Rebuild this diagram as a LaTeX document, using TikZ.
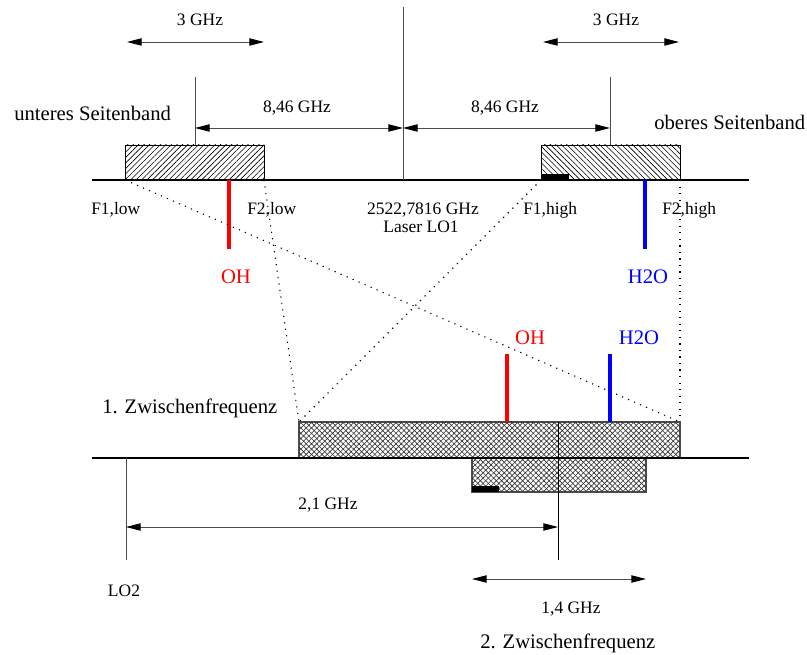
\documentclass[tikz,border=0pt]{standalone}
\usepackage{fontspec}
\setmainfont{Liberation Serif}
\usetikzlibrary{arrows.meta,patterns.meta}
\begin{document}
\begin{tikzpicture}[x=0.75pt,y=-0.75pt,
  small/.style={font=\fontsize{13.1}{15}\selectfont, inner sep=0pt, anchor=base},
  big/.style={font=\fontsize{15.5}{18}\selectfont, inner sep=0pt, anchor=base},
  axisline/.style={line width=0.9pt, black},
  tickline/.style={line width=0.7pt, black!70},
  dimline/.style={line width=0.7pt, black!70,
    {Triangle[length=11pt,width=5.5pt,color=black]}-{Triangle[length=11pt,width=5.5pt,color=black]}},
  guide/.style={line width=0.8pt, dash pattern=on 0.9pt off 4pt},
  lowband/.style={draw=black, line width=0.6pt,
    pattern={Lines[angle=45, distance=2.9pt, line width=0.45pt]}},
  highband/.style={draw=black, line width=0.6pt,
    pattern={Lines[angle=-45, distance=2.9pt, line width=0.45pt]}},
  ifband/.style={draw=black!70, line width=0.8pt, pattern color=black!80,
    pattern={Lines[angle=45, distance=2.8pt, line width=0.5pt]},
    postaction={pattern color=black!80, pattern={Lines[angle=-45, distance=2.8pt, line width=0.5pt]}}},
  marker/.style={fill=black},
  ohline/.style={line width=3pt, red},
  waterline/.style={line width=3pt, blue}
]
\useasboundingbox (0,0) rectangle (807,655);

% ---------- radio frequency axis with both sidebands ----------
\coordinate (rfL) at (92,180);
\coordinate (rfR) at (749,180);
\coordinate (lo1top) at (403,7);
\coordinate (lo1) at (403,180);
\coordinate (lsbA) at (125,145);
\coordinate (lsbB) at (264,180);
\coordinate (lsbBL) at (125,180);
\coordinate (usbA) at (541,145);
\coordinate (usbB) at (680,180);
\coordinate (usbBL) at (541,180);
\coordinate (lsbTickTop) at (195,77);
\coordinate (lsbTickBot) at (195,145);
\coordinate (usbTickTop) at (610,77);
\coordinate (usbTickBot) at (610,145);
\coordinate (markA) at (541,174);
\coordinate (markB) at (569,180);

\draw[lowband] (lsbA) rectangle (lsbB);
\draw[highband] (usbA) rectangle (usbB);
\fill[marker] (markA) rectangle (markB);
\draw[axisline] (rfL) -- (rfR);
\draw[tickline] (lo1top) -- (lo1);
\draw[tickline] (lsbTickTop) -- (lsbTickBot);
\draw[tickline] (usbTickTop) -- (usbTickBot);

% distances
\coordinate (dLa) at (195,128);
\coordinate (dLb) at (403,128);
\coordinate (dRb) at (610,128);
\coordinate (wLa) at (127,42);
\coordinate (wLb) at (264,42);
\coordinate (wRa) at (543,42);
\coordinate (wRb) at (679,42);
\draw[dimline] (dLa) -- (dLb);
\draw[dimline] (dLb) -- (dRb);
\draw[dimline] (wLa) -- (wLb);
\draw[dimline] (wRa) -- (wRb);

\node[small] (wLlab) at (200,26) {3 GHz};
\node[small] (wRlab) at (616,26) {3 GHz};
\node[small] (dLlab) at (297,113) {8,46 GHz};
\node[small] (dRlab) at (505,113) {8,46 GHz};
\node[big, anchor=base west] (lsbname) at (14,121) {unteres Seitenband};
\node[big, anchor=base west] (usbname) at (654,130) {oberes Seitenband};

\node[small, anchor=base west] (f1low) at (91,215) {F1,low};
\node[small, anchor=base west] (f2low) at (247,215) {F2,low};
\node[small, anchor=base west] (f1high) at (523,215) {F1,high};
\node[small, anchor=base west] (f2high) at (662,215) {F2,high};
\node[small] (lo1freq) at (423,215) {2522,7816 GHz};
\node[small] (lo1name) at (421,233) {Laser LO1};

% spectral lines in the sidebands
\coordinate (ohRFa) at (229,180);
\coordinate (ohRFb) at (229,249);
\coordinate (hwRFa) at (645,180);
\coordinate (hwRFb) at (645,249);
\draw[ohline] (ohRFa) -- (ohRFb);
\draw[waterline] (hwRFa) -- (hwRFb);
\node[big, text=red] (ohRF) at (236,284) {OH};
\node[big, text=blue] (hwRF) at (648,284) {H2O};

% ---------- first intermediate frequency ----------
\coordinate (ifL) at (92,458);
\coordinate (ifR) at (749,458);
\coordinate (if1A) at (299,422);
\coordinate (if1B) at (680,458);
\coordinate (if1TR) at (680,422);
\coordinate (if2A) at (472,458);
\coordinate (if2B) at (646,492);
\coordinate (mark2A) at (472,486);
\coordinate (mark2B) at (499,492);
\coordinate (centerTop) at (558,422);
\coordinate (centerBot) at (558,560);
\coordinate (centerArr) at (558,527);
\coordinate (lo2top) at (126,458);
\coordinate (lo2bot) at (126,560);
\coordinate (lo2arr) at (126,527);
\coordinate (bwA) at (472,579);
\coordinate (bwB) at (646,579);

% dotted mapping of the sideband edges
\draw[guide] (lsbBL) -- (if1TR);
\draw[guide] (lsbB) -- (if1A);
\draw[guide] (usbBL) -- (if1A);
\draw[guide] (usbB) -- (if1TR);

\draw[ifband] (if1A) rectangle (if1B);
\draw[ifband] (if2A) rectangle (if2B);
\fill[marker] (mark2A) rectangle (mark2B);
\draw[axisline] (ifL) -- (ifR);
\draw[line width=0.7pt, black] (centerTop) -- (centerBot);
\draw[tickline] (lo2top) -- (lo2bot);

\coordinate (ohIFa) at (507,422);
\coordinate (ohIFb) at (507,354);
\coordinate (hwIFa) at (610,422);
\coordinate (hwIFb) at (610,354);
\draw[ohline] (ohIFa) -- (ohIFb);
\draw[waterline] (hwIFa) -- (hwIFb);
\node[big, text=red] (ohIF) at (530,345) {OH};
\node[big, text=blue] (hwIF) at (639,345) {H2O};

\node[big, anchor=base west] (if1name) at (102,414) {1. Zwischenfrequenz};

% ---------- second intermediate frequency ----------
\draw[dimline] (lo2arr) -- (centerArr);
\draw[dimline] (bwA) -- (bwB);
\node[small] (lo2dist) at (328,510) {2,1 GHz};
\node[small] (lo2name) at (124,597) {LO2};
\node[small] (bwlab) at (571,614) {1,4 GHz};
\node[big, anchor=base west] (if2name) at (480,648) {2. Zwischenfrequenz};
\end{tikzpicture}
\end{document}
